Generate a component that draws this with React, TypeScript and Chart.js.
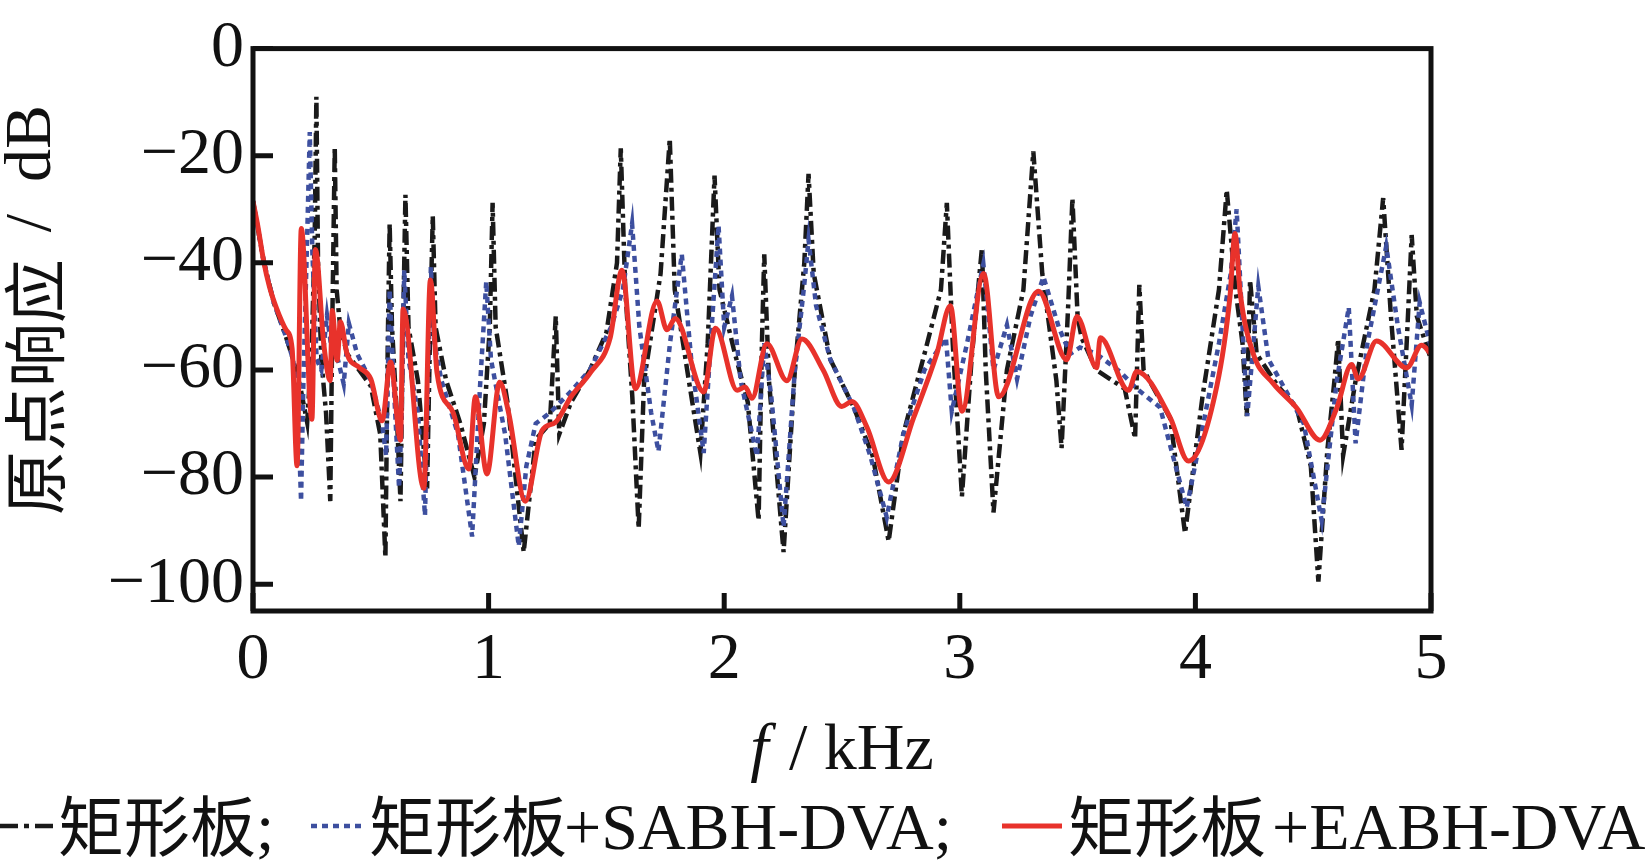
import React, { useEffect, useRef } from "react";
import { Chart, registerables } from "chart.js";

Chart.register(...registerables);

const xTicks = [0, 1, 2, 3, 4, 5];
const yTicks = [-100, -80, -60, -40, -20, 0];

const xTitleItalic = "f";
const xTitleRest = " / kHz";
const yTitleCjk = "原点响应";
const yTitleSlash = "/";
const yTitleUnit = "dB";
const legendCjk = ["矩形板", "矩形板", "矩形板"];
const legendLatin = [";", "+SABH-DVA;", "+EABH-DVA"];

// 矩形板 (black dash-dot)
const plateFreq = [
  0, 0.045, 0.088, 0.137, 0.17, 0.2, 0.23, 0.25, 0.262, 0.269, 0.276, 0.29, 0.31, 0.328, 0.337, 0.347,
  0.355, 0.37, 0.4, 0.45, 0.5, 0.54, 0.562, 0.572, 0.58, 0.59, 0.61, 0.626, 0.636, 0.647, 0.66, 0.7,
  0.739, 0.752, 0.763, 0.775, 0.82, 0.88, 0.94, 0.98, 1.005, 1.017, 1.03, 1.08, 1.149, 1.2, 1.26, 1.285,
  1.3, 1.35, 1.43, 1.5, 1.545, 1.561, 1.58, 1.61, 1.637, 1.66, 1.73, 1.769, 1.79, 1.85, 1.899, 1.93,
  1.959, 1.98, 2.04, 2.1, 2.146, 2.16, 2.17, 2.19, 2.252, 2.3, 2.34, 2.358, 2.38, 2.45, 2.55, 2.63, 2.698,
  2.76, 2.85, 2.92, 2.945, 2.97, 3.009, 3.05, 3.094, 3.11, 3.143, 3.2, 3.27, 3.312, 3.35, 3.41, 3.432,
  3.46, 3.478, 3.5, 3.517, 3.58, 3.7, 3.744, 3.762, 3.78, 3.893, 3.956, 4.03, 4.1, 4.133, 4.17, 4.2,
  4.218, 4.232, 4.26, 4.35, 4.43, 4.49, 4.522, 4.56, 4.59, 4.606, 4.627, 4.68, 4.76, 4.797, 4.83, 4.875,
  4.9, 4.918, 4.94, 5.0,
];
const plateDb = [
  -28.5, -39.6, -47.4, -53.4, -58, -63, -69.8, -55, -35, -9, -40, -58, -68, -84.5, -50, -18.3,
  -45, -52, -57, -60, -63, -72, -95, -55, -32.7, -52, -68, -84.5, -55, -27.3, -52, -62,
  -82.1, -52, -31.2, -52, -62, -70, -80, -70, -52, -28.8, -52, -66, -94, -73, -70, -50,
  -72, -66, -60, -53, -40, -18.6, -45, -65, -89.6, -62, -42, -16.8, -45, -62, -75.5, -55,
  -23.7, -45, -56, -66, -88.1, -55, -38.4, -62, -94, -60, -40, -23.4, -42, -58, -67, -76, -92,
  -72, -57, -45, -28.8, -55, -83.6, -58, -37.2, -60, -86.6, -60, -45, -19.2, -42, -62, -74.6,
  -48, -27.9, -50, -54, -60, -63.5, -72.8, -44.1, -60, -69, -90.5, -65, -45, -26.4, -45, -55,
  -68.6, -43.2, -57, -63, -67, -78, -99.5, -75, -62, -54.2, -76, -62, -45, -27.9, -50, -74.9,
  -52, -34.8, -50, -58,
];

// 矩形板+SABH-DVA (blue dotted)
const sabhFreq = [
  0, 0.045, 0.088, 0.137, 0.17, 0.19, 0.204, 0.215, 0.23, 0.241, 0.252, 0.27, 0.29, 0.314, 0.33, 0.36,
  0.385, 0.407, 0.442, 0.5, 0.548, 0.565, 0.58, 0.6, 0.62, 0.63, 0.642, 0.66, 0.7, 0.73, 0.745, 0.755,
  0.77, 0.8, 0.87, 0.93, 0.965, 0.99, 1.01, 1.07, 1.128, 1.16, 1.2, 1.26, 1.35, 1.43, 1.52, 1.57,
  1.609, 1.64, 1.69, 1.721, 1.77, 1.82, 1.86, 1.913, 1.95, 1.976, 2.0, 2.033, 2.07, 2.139, 2.17, 2.2,
  2.252, 2.3, 2.34, 2.358, 2.39, 2.45, 2.55, 2.62, 2.69, 2.76, 2.85, 2.941, 2.966, 3.03, 3.1, 3.143,
  3.2, 3.243, 3.3, 3.355, 3.42, 3.468, 3.51, 3.58, 3.68, 3.751, 3.85, 3.963, 4.034, 4.1, 4.15, 4.175,
  4.2, 4.22, 4.267, 4.31, 4.387, 4.46, 4.536, 4.6, 4.651, 4.68, 4.73, 4.81, 4.86, 4.918, 4.952, 5.0,
];
const sabhDb = [
  -28.5, -39.6, -47.4, -53.4, -58, -66, -84.5, -60, -35, -15.6, -38, -58, -60, -49.8, -55, -58,
  -62.6, -51.3, -57, -62, -70, -76, -45, -65, -82, -70, -41.4, -58, -68, -87.2, -58, -40.8,
  -55, -62, -72, -91.1, -62, -43.5, -58, -72, -92.9, -78, -70, -68, -64, -60, -52, -45,
  -32.7, -52, -68, -75.2, -55, -38.4, -58, -75.5, -50, -33, -52, -46.2, -62, -76.1, -55, -65,
  -89.3, -60, -44, -35.7, -48, -58, -67, -76, -87.5, -72, -60, -54, -67.7, -55.2, -40.2, -60,
  -51.6, -61.7, -50, -42.6, -52, -57, -55.8, -57, -60.3, -63.5, -67, -85.7, -70, -55, -42, -30,
  -52, -68.6, -44.4, -58, -64.1, -70, -88.1, -62, -48.3, -73.7, -55, -36.9, -52, -66.5, -47.4, -55.8,
];

// 矩形板+EABH-DVA (red solid)
const eabhFreq = [
  0, 0.02, 0.045, 0.07, 0.1, 0.14, 0.166, 0.187, 0.205, 0.25, 0.265, 0.3, 0.328, 0.336, 0.357, 0.371,
  0.399, 0.45, 0.5, 0.548, 0.584, 0.626, 0.637, 0.725, 0.753, 0.781, 0.85, 0.916, 0.944, 0.993, 1.047, 1.085,
  1.156, 1.227, 1.283, 1.35, 1.432, 1.516, 1.566, 1.623, 1.715, 1.757, 1.792, 1.913, 1.963, 2.055, 2.089, 2.118,
  2.181, 2.266, 2.33, 2.42, 2.499, 2.542, 2.606, 2.698, 2.804, 2.903, 2.96, 3.009, 3.101, 3.165, 3.334, 3.454,
  3.497, 3.581, 3.596, 3.716, 3.751, 3.893, 3.97, 4.091, 4.147, 4.168, 4.19, 4.246, 4.33, 4.43, 4.529, 4.6,
  4.663, 4.691, 4.769, 4.897, 4.96, 5.0,
];
const eabhDb = [
  -28.5, -33, -39.6, -44.5, -48.5, -52.5, -56, -77.9, -33.6, -69.2, -37.5, -55, -62, -48.9, -58.2, -51,
  -57, -59.5, -61.7, -69.5, -58.5, -73.1, -48.6, -82.1, -43.2, -60.5, -68, -78.5, -65, -79.4, -62.3, -68,
  -84.5, -71.3, -69.8, -65, -60.5, -54, -41.4, -63.5, -47.1, -52.5, -50.4, -64.1, -52.2, -63.8, -63.2, -65.3,
  -55.1, -62, -54.2, -60, -66.8, -65.9, -70.7, -80.9, -68.9, -56.9, -48, -67.7, -42, -65, -45.3, -58.1,
  -50, -59.6, -54, -63.8, -60.3, -68.9, -77, -63, -46.2, -34.5, -45.6, -57, -62.5, -67.1, -73.1, -67.1,
  -59, -61.7, -54.6, -59.6, -55.4, -57,
];

const toPoints = (xs: number[], ys: number[]) => xs.map((x, i) => ({ x, y: ys[i] }));

const LATIN = '"Liberation Serif", "Times New Roman", serif';
const CJK = '"Noto Sans CJK SC", sans-serif';

const framePlugin = {
  id: "frameAndText",
  afterDatasetsDraw(chart: any) {
    const { ctx, chartArea: a, scales } = chart;
    ctx.save();
    ctx.strokeStyle = "#111";
    ctx.lineWidth = 5;
    ctx.setLineDash([]);
    ctx.strokeRect(a.left, a.top, a.right - a.left, a.bottom - a.top);
    ctx.beginPath();
    yTicks.forEach((v) => {
      const y = scales.y.getPixelForValue(v);
      ctx.moveTo(a.left, y);
      ctx.lineTo(a.left + 20, y);
    });
    xTicks.forEach((v) => {
      const x = scales.x.getPixelForValue(v);
      ctx.moveTo(x, a.bottom);
      ctx.lineTo(x, a.bottom - 18);
    });
    ctx.stroke();
    ctx.restore();
  },
  afterDraw(chart: any) {
    const { ctx, chartArea: a } = chart;
    ctx.save();
    ctx.fillStyle = "#111";

    // x axis title
    const cx = (a.left + a.right) / 2;
    ctx.textBaseline = "middle";
    ctx.font = `italic 66px ${LATIN}`;
    const wf = ctx.measureText(xTitleItalic).width;
    ctx.font = `66px ${LATIN}`;
    const wr = ctx.measureText(xTitleRest).width;
    const sx = cx - (wf + wr + 4) / 2;
    ctx.font = `italic 66px ${LATIN}`;
    ctx.textAlign = "left";
    ctx.fillText(xTitleItalic, sx, 752);
    ctx.font = `66px ${LATIN}`;
    ctx.fillText(xTitleRest, sx + wf + 4, 752);

    // y axis title (rotated, reading bottom to top)
    ctx.save();
    ctx.translate(33, 515);
    ctx.rotate(-Math.PI / 2);
    ctx.textBaseline = "middle";
    ctx.textAlign = "left";
    ctx.font = `64px ${CJK}`;
    ctx.fillText(yTitleCjk, 0, 2);
    ctx.font = `66px ${LATIN}`;
    ctx.textAlign = "center";
    ctx.fillText(yTitleSlash, 292, 0);
    ctx.textAlign = "left";
    ctx.fillText(yTitleUnit, 333, 0);
    ctx.restore();

    // legend
    const ly = 826;
    const items = [
      { x0: 0, x1: 55, color: "#1a1a1a", dash: [18, 6, 5, 6], w: 4.5, cjkX: 58, latX: 256 },
      { x0: 311, x1: 366, color: "#3d4f9f", dash: [6, 5], w: 4.5, cjkX: 369, latX: 564 },
      { x0: 1002, x1: 1062, color: "#e8322b", dash: [], w: 5, cjkX: 1068, latX: 1272 },
    ];
    items.forEach((s, i) => {
      ctx.beginPath();
      ctx.strokeStyle = s.color;
      ctx.lineWidth = s.w;
      ctx.setLineDash(s.dash);
      ctx.moveTo(s.x0, ly);
      ctx.lineTo(s.x1, ly);
      ctx.stroke();
      ctx.setLineDash([]);
      ctx.fillStyle = "#111";
      ctx.textAlign = "left";
      ctx.textBaseline = "alphabetic";
      ctx.font = `66px ${CJK}`;
      ctx.fillText(legendCjk[i], s.cjkX, 851);
      ctx.font = `66px ${LATIN}`;
      ctx.fillText(legendLatin[i], s.latX, 849);
    });
    ctx.restore();
  },
};

export default function App() {
  const ref = useRef<HTMLCanvasElement>(null);
  useEffect(() => {
    const chart = new Chart(ref.current as HTMLCanvasElement, {
      type: "line",
      data: {
        datasets: [
          {
            label: legendCjk[2] + legendLatin[2],
            data: toPoints(eabhFreq, eabhDb),
            borderColor: "#e8322b",
            borderWidth: 5,
            pointRadius: 0,
            cubicInterpolationMode: "monotone",
            order: 0,
          },
          {
            label: legendCjk[1] + legendLatin[1],
            data: toPoints(sabhFreq, sabhDb),
            borderColor: "#3d4f9f",
            borderWidth: 4.5,
            borderDash: [6, 5],
            pointRadius: 0,
            tension: 0,
            order: 1,
          },
          {
            label: legendCjk[0],
            data: toPoints(plateFreq, plateDb),
            borderColor: "#1a1a1a",
            borderWidth: 4.5,
            borderDash: [14, 5, 4, 5],
            pointRadius: 0,
            tension: 0,
            order: 2,
          },
        ],
      },
      options: {
        responsive: false,
        animation: false,
        layout: { padding: { left: 0, right: 219, top: 26, bottom: 0 } },
        plugins: { legend: { display: false }, tooltip: { enabled: false } },
        scales: {
          x: {
            type: "linear",
            min: 0,
            max: 5,
            grid: { display: false, drawTicks: false },
            border: { display: false },
            afterBuildTicks: (s: any) => {
              s.ticks = xTicks.map((v) => ({ value: v }));
            },
            afterFit: (s: any) => {
              s.height = 250;
            },
            ticks: {
              autoSkip: false,
              maxRotation: 0,
              padding: 10,
              color: "#111",
              font: { family: LATIN, size: 66 },
              callback: (v: any) => String(v),
            },
          },
          y: {
            type: "linear",
            min: -105,
            max: 0,
            grid: { display: false, drawTicks: false },
            border: { display: false },
            afterBuildTicks: (s: any) => {
              s.ticks = yTicks.map((v) => ({ value: v }));
            },
            afterFit: (s: any) => {
              s.width = 253;
            },
            ticks: {
              autoSkip: false,
              padding: 9,
              color: "#111",
              font: { family: LATIN, size: 66 },
              callback: (v: any) => (v < 0 ? "\u2212" + Math.abs(v) : String(v)),
            },
          },
        },
      },
      plugins: [framePlugin],
    } as any);
    return () => chart.destroy();
  }, []);
  return (
    <div style={{ position: "absolute", left: 0, top: 0, width: 1650, height: 861, background: "#fff" }}>
      <canvas ref={ref} width={1650} height={861} style={{ display: "block", width: 1650, height: 861 }} />
    </div>
  );
}
